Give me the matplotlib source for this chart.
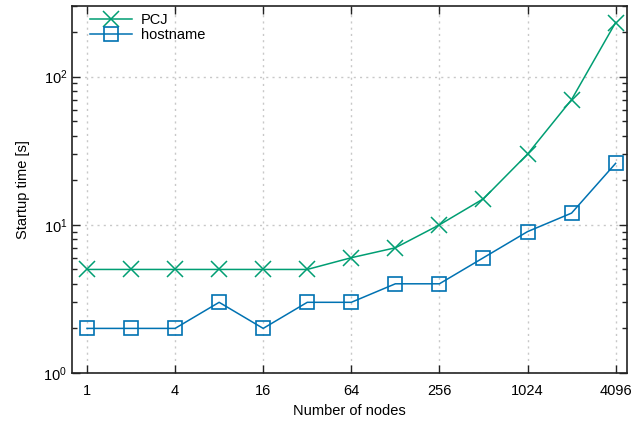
import matplotlib
matplotlib.use("Agg")
import matplotlib.pyplot as plt
from matplotlib.ticker import LogLocator, NullFormatter, FixedLocator, FixedFormatter

plt.rcParams['font.family'] = ['Liberation Sans', 'DejaVu Sans']

# data
nodes = [1, 2, 4, 8, 16, 32, 64, 128, 256, 512, 1024, 2048, 4096]
pcj = [5, 5, 5, 5, 5, 5, 6, 7, 10, 15, 30, 70, 232]
hostname = [2, 2, 2, 3, 2, 3, 3, 4, 4, 6, 9, 12, 26]
xticks = [1, 4, 16, 64, 256, 1024, 4096]

green = '#009e73'
blue = '#0072b2'

fig = plt.figure(figsize=(6.41, 4.21), dpi=100)
ax = fig.add_axes([72 / 641, 48 / 421, 555 / 641, 367 / 421])

ax.plot(nodes, pcj, color=green, lw=1.1, marker='x', ms=12, mew=1.1, label='PCJ')
ax.plot(nodes, hostname, color=blue, lw=1.1, marker='s', ms=10, mew=1.2,
        mfc='none', label='hostname')

ax.set_xscale('log', base=2)
ax.set_yscale('log')
ax.set_xlim(0.79, 4900)
ax.set_ylim(1, 300)

ax.xaxis.set_major_locator(FixedLocator(xticks))
ax.xaxis.set_major_formatter(FixedFormatter([str(v) for v in xticks]))
ax.xaxis.set_minor_locator(FixedLocator([]))
ax.yaxis.set_major_locator(LogLocator(base=10))
ax.yaxis.set_minor_locator(LogLocator(base=10, subs=range(2, 10)))
ax.yaxis.set_minor_formatter(NullFormatter())

ax.tick_params(which='both', direction='in', top=True, right=True, labelsize=10.5, color='#222222')
ax.tick_params(which='major', length=6, width=1)
ax.tick_params(which='minor', length=3.5, width=1)
ax.tick_params(axis='x', pad=8)

ax.grid(True, which='major', color='#c8c8c8', linestyle=(0, (1.5, 3)), lw=1)
for s in ax.spines.values():
    s.set_linewidth(1.2)
    s.set_color('#222222')

ax.set_xlabel('Number of nodes', fontsize=10.5, labelpad=4)
ax.set_ylabel('Startup time [s]', fontsize=10.5, labelpad=10)

ax.legend(loc='upper left', bbox_to_anchor=(0.022, 0.997), frameon=False, fontsize=10.5,
          handlelength=2.9, handletextpad=0.6, borderaxespad=0, labelspacing=0.05)

fig.savefig('out.png', dpi=100)
